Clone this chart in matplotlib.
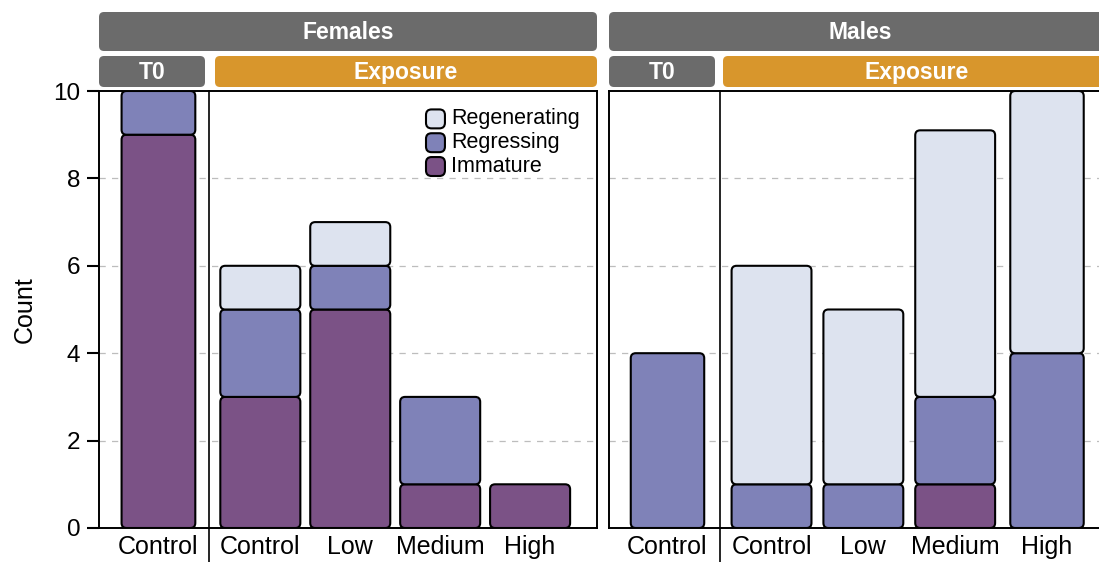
import matplotlib
matplotlib.use("Agg")
import matplotlib.pyplot as plt
from matplotlib.patches import FancyBboxPatch
from matplotlib.legend_handler import HandlerPatch
from matplotlib.lines import Line2D

plt.rcParams['font.family'] = ['Liberation Sans', 'DejaVu Sans']

# ---------------- data ----------------
sexes = ["Females", "Males"]
groups = ["T0", "Exposure", "Exposure", "Exposure", "Exposure"]
categories = ["Control", "Control", "Low", "Medium", "High"]
stages = ["Immature", "Regressing", "Regenerating"]

female_immature = [9, 3, 5, 1, 1]
female_regressing = [1, 2, 1, 2, 0]
female_regenerating = [0, 1, 1, 0, 0]

male_immature = [0, 0, 0, 1, 0]
male_regressing = [4, 1, 1, 2, 4]
male_regenerating = [0, 5, 4, 6.1, 6]

yticks = [0, 2, 4, 6, 8, 10]

# ---------------- style ----------------
colors = {"Immature": "#7B5286", "Regressing": "#7F82B8", "Regenerating": "#DDE3EF"}
strip_grey = "#6B6B6B"
strip_orange = "#D8962C"

W, H = 1099, 562
fig = plt.figure(figsize=(W / 100, H / 100), dpi=100)


def px_axes(l, t, r, b):
    return fig.add_axes([l / W, (H - b) / H, (r - l) / W, (b - t) / H])


# bar positions (layout)
t0_gap = 1.133
positions = [0.0] + [t0_gap + i for i in range(4)]
sep_x = t0_gap / 2

panels = [
    (px_axes(99, 91, 597, 528), female_immature, female_regressing, female_regenerating, True,
     (-0.661, 4.877), [0.82, 0.89, 0.89, 0.89, 0.89]),
    (px_axes(609, 91, 1111, 528), male_immature, male_regressing, male_regenerating, False,
     (-0.637, 4.83), [0.80, 0.87, 0.87, 0.87, 0.80]),
]

R_PX = 5


def round_bars(ax, bars):
    bb = ax.get_window_extent()
    x0, x1 = ax.get_xlim()
    y0, y1 = ax.get_ylim()
    pxx = bb.width / (x1 - x0)
    pxy = bb.height / (y1 - y0)
    r = R_PX / pxx
    aspect = pxx / pxy
    for rect in bars:
        h = rect.get_height()
        if h > 0:
            fb = FancyBboxPatch(rect.get_xy(), rect.get_width(), h,
                                boxstyle=f"round,pad=0,rounding_size={r}",
                                mutation_aspect=aspect,
                                fc=rect.get_facecolor(), ec="black", lw=1.5, zorder=3)
            ax.add_patch(fb)
        rect.remove()


for ax, imm, reg, rgn, first, xl, widths in panels:
    ax.set_xlim(*xl)
    ax.set_ylim(0, 10)
    bottom = [0] * 5
    for stage, vals in zip(stages, [imm, reg, rgn]):
        bars = ax.bar(positions, vals, width=widths, bottom=bottom, color=colors[stage])
        round_bars(ax, bars)
        bottom = [b + v for b, v in zip(bottom, vals)]
    for yv in yticks[1:-1]:
        ax.axhline(yv, color="#BDBDBD", lw=0.9, ls=(0, (5, 5)), zorder=1)
    ax.set_xticks(positions)
    ax.set_xticklabels(categories, fontsize=18)
    ax.tick_params(axis='x', length=0, pad=5)
    ax.set_yticks(yticks)
    for s in ax.spines.values():
        s.set_linewidth(1.4)
        s.set_color("black")
    if first:
        ax.set_yticklabels([str(v) for v in yticks], fontsize=17.5)
        ax.tick_params(axis='y', length=8.5, width=1.5, pad=5)
        ax.set_ylabel("Count", fontsize=18, labelpad=12)
    else:
        ax.tick_params(axis='y', left=False, labelleft=False)
    # separator between T0 and Exposure
    ax.add_line(Line2D([sep_x, sep_x], [1, -0.09], transform=ax.get_xaxis_transform(),
                       color="black", lw=1.2, clip_on=False, zorder=5))

# legend
class RoundHandler(HandlerPatch):
    def create_artists(self, legend, orig_handle, xdescent, ydescent, width, height, fontsize, trans):
        p = FancyBboxPatch((-xdescent, -ydescent - 2), width, width,
                           boxstyle="round,pad=0,rounding_size=4",
                           fc=orig_handle.get_facecolor(), ec="black", lw=1.5, transform=trans)
        return [p]

handles = [FancyBboxPatch((0, 0), 1, 1, fc=colors[s]) for s in reversed(stages)]
leg = panels[0][0].legend(handles, list(reversed(stages)), loc="upper left",
                          bbox_to_anchor=((426 - 99) / 498, (528 - 108) / 437),
                          frameon=False, fontsize=15.5, borderpad=0, borderaxespad=0,
                          handlelength=0.88, handleheight=0.88, handletextpad=0.3,
                          labelspacing=0.12, handler_map={FancyBboxPatch: RoundHandler()})

# strips (overlay in pixel coordinates)
ov = fig.add_axes([0, 0, 1, 1], zorder=-1)
ov.set_xlim(0, W)
ov.set_ylim(H, 0)
ov.axis("off")


def strip(l, t, r, b, color, text):
    ov.add_patch(FancyBboxPatch((l, t), r - l, b - t, boxstyle="round,pad=0,rounding_size=5",
                                fc=color, ec="none"))
    ov.text((l + r) / 2, (t + b) / 2 + 1, text, color="white", fontsize=16.5,
            fontweight="bold", ha="center", va="center")


strip(99, 12, 597, 51, strip_grey, sexes[0])
strip(99, 56, 205, 87, strip_grey, groups[0])
strip(215, 56, 597, 87, strip_orange, groups[1])
strip(609, 12, 1111, 51, strip_grey, sexes[1])
strip(609, 56, 715, 87, strip_grey, groups[0])
strip(723, 56, 1111, 87, strip_orange, groups[1])

fig.savefig("out.png", dpi=100)
